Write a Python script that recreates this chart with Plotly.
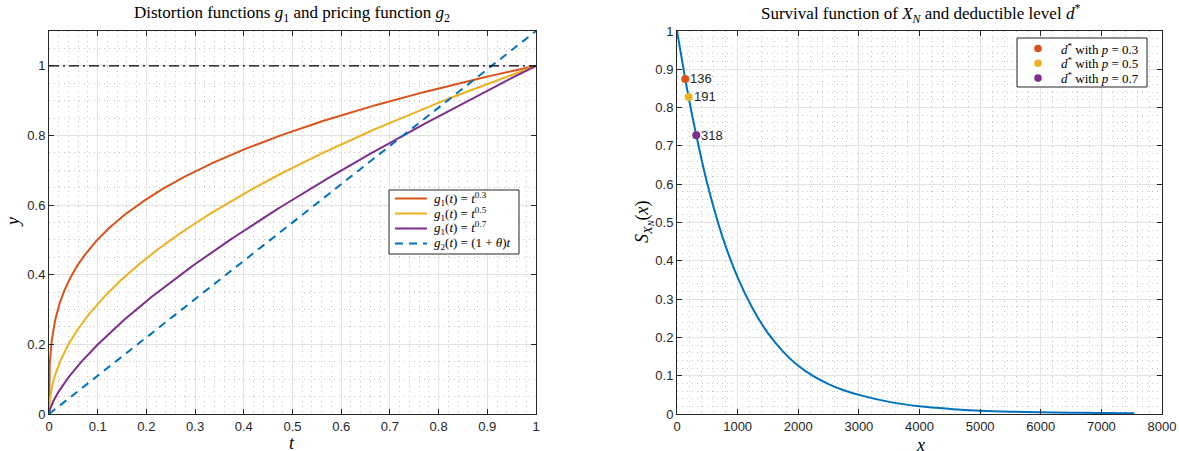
import numpy as np
import plotly.graph_objects as go

# ---------------- data ----------------
p_values = [0.3, 0.5, 0.7]
g1_colors = ["#D95319", "#EDB120", "#7E2F8E"]
pricing_color = "#0072BD"
theta = 0.1
t_grid = np.linspace(0, 1, 1001) ** 2  # dense near 0

pricing_t = [0.0, 1.0]
pricing_y = [0.0, 1.0 + theta]

survival_x = [0, 136, 191, 318, 500, 750, 1000, 1250, 1500, 1750, 2000, 2250, 2500,
              2750, 3000, 3500, 4000, 4500, 5000, 5500, 6000, 6500, 7000, 7545]
survival_s = [1.0, 0.875, 0.828, 0.728, 0.601, 0.4625, 0.357, 0.275, 0.211, 0.163,
              0.126, 0.099, 0.078, 0.062, 0.050, 0.0317, 0.020, 0.0132, 0.0087, 0.0061,
              0.0045, 0.0035, 0.0028, 0.0022]

d_star = [136, 191, 318]
d_surv = [0.875, 0.828, 0.728]
d_labels = ["136", "191", "318"]

left_legend = ["<i>g</i><sub>1</sub>(<i>t</i>) = <i>t</i><sup>0.3</sup>",
               "<i>g</i><sub>1</sub>(<i>t</i>) = <i>t</i><sup>0.5</sup>",
               "<i>g</i><sub>1</sub>(<i>t</i>) = <i>t</i><sup>0.7</sup>",
               "<i>g</i><sub>2</sub>(<i>t</i>) = (1 + <i>θ</i>)<i>t</i>"]
right_legend = ["<i>d</i><sup>*</sup> with <i>p</i> = 0.3",
                "<i>d</i><sup>*</sup> with <i>p</i> = 0.5",
                "<i>d</i><sup>*</sup> with <i>p</i> = 0.7"]

W, H = 1179, 451
fig = go.Figure()

# ---------------- left panel ----------------
for p, c, nm in zip(p_values, g1_colors, left_legend):
    fig.add_trace(go.Scatter(
        x=t_grid, y=t_grid ** p, mode="lines", line=dict(color=c, width=2),
        name=nm, showlegend=False, xaxis="x", yaxis="y"))
fig.add_trace(go.Scatter(
    x=pricing_t, y=pricing_y, mode="lines",
    line=dict(color=pricing_color, width=2, dash="8px,6px"),
    name=left_legend[3], showlegend=False, xaxis="x", yaxis="y"))
fig.add_trace(go.Scatter(
    x=[0, 1], y=[1, 1], mode="lines",
    line=dict(color="black", width=1.3, dash="10px,4px,2px,4px"),
    showlegend=False, xaxis="x", yaxis="y", hoverinfo="skip"))

# ---------------- right panel ----------------
fig.add_trace(go.Scatter(
    x=survival_x, y=survival_s, mode="lines",
    line=dict(color=pricing_color, width=2, shape="spline", smoothing=1.0),
    showlegend=False, xaxis="x2", yaxis="y2"))
for d, s, c, nm in zip(d_star, d_surv, g1_colors, right_legend):
    fig.add_trace(go.Scatter(
        x=[d], y=[s], mode="markers", marker=dict(color=c, size=8),
        name=nm, showlegend=False, xaxis="x2", yaxis="y2"))

# ---------------- helpers (pixel -> paper) ----------------
def px(x):
    return x / W

def py(y):
    return (H - y) / H

annotations = []
shapes = []
for d, s, lab in zip(d_star, d_surv, d_labels):
    annotations.append(dict(x=d, y=s, xref="x2", yref="y2", text=lab, showarrow=False,
                            xanchor="left", yanchor="middle", xshift=3,
                            font=dict(family="Liberation Sans, Arial", size=13, color="#262626")))

serif = "Liberation Serif, Times New Roman, serif"
px_annots = [
    (292, 14, "Distortion functions <i>g</i><sub>1</sub> and pricing function <i>g</i><sub>2</sub>", 17, 0),
    (920, 14, "Survival function of <i>X<sub>N</sub></i> and deductible level <i>d</i><sup>*</sup>", 17, 0),
    (292, 443, "<i>t</i>", 18, 0),
    (920, 445, "<i>x</i>", 18, 0),
    (13, 222, "<i>y</i>", 18, -90),
    (644, 222, "<i>S</i><sub><i>X<sub>N</sub></i></sub>(<i>x</i>)", 18, -90),
]
for x, y, txt, size, ang in px_annots:
    annotations.append(dict(x=px(x), y=py(y), xref="paper", yref="paper",
                            xanchor="center", yanchor="middle", showarrow=False,
                            text=txt, textangle=ang,
                            font=dict(family=serif, size=size, color="#000")))

# ---------------- legends (drawn in layout) ----------------
legend_font = dict(family=serif, size=13, color="#000")
# left legend box
shapes.append(dict(type="rect", xref="paper", yref="paper", x0=px(389), x1=px(519),
                   y0=py(254), y1=py(190), fillcolor="white",
                   line=dict(color="#262626", width=1)))
left_colors = g1_colors + [pricing_color]
left_dash = ["solid", "solid", "solid", "8px,6px"]
for i, (txt, c, ds) in enumerate(zip(left_legend, left_colors, left_dash)):
    yy = 198.5 + 15 * i
    shapes.append(dict(type="line", xref="paper", yref="paper", x0=px(395), x1=px(427),
                       y0=py(yy), y1=py(yy), line=dict(color=c, width=2, dash=ds)))
    annotations.append(dict(x=px(432), y=py(yy), xref="paper", yref="paper",
                            xanchor="left", yanchor="middle", showarrow=False,
                            text=txt, font=legend_font))
# right legend box
shapes.append(dict(type="rect", xref="paper", yref="paper", x0=px(1017), x1=px(1147),
                   y0=py(87), y1=py(38), fillcolor="white",
                   line=dict(color="#262626", width=1)))
for i, (txt, c) in enumerate(zip(right_legend, g1_colors)):
    yy = 48.5 + 14.8 * i
    shapes.append(dict(type="circle", xref="paper", yref="paper",
                       x0=px(1038 - 3.8), x1=px(1038 + 3.8),
                       y0=py(yy + 3.8), y1=py(yy - 3.8),
                       fillcolor=c, line=dict(color=c, width=0)))
    annotations.append(dict(x=px(1059), y=py(yy), xref="paper", yref="paper",
                            xanchor="left", yanchor="middle", showarrow=False,
                            text=txt, font=legend_font))

tickfont = dict(family="Liberation Sans, Arial", size=13, color="#262626")
axis_common = dict(showline=True, linecolor="#262626", linewidth=1, mirror="allticks",
                   ticks="inside", ticklen=5, tickcolor="#262626", tickfont=tickfont,
                   showgrid=True, gridcolor="#e3e3e3", gridwidth=1, zeroline=False)

def minor(dt):
    return dict(showgrid=True, gridcolor="#c4c4c4", griddash="1px,4px", gridwidth=1,
                dtick=dt, ticks="")

ybot = py(414)
ytop = py(31)

fig.update_layout(
    width=W, height=H, margin=dict(l=0, r=0, t=0, b=0, autoexpand=False),
    paper_bgcolor="white", plot_bgcolor="white",
    xaxis=dict(domain=[px(49), px(536)], range=[0, 1], tick0=0, dtick=0.1,
               minor=minor(0.02), anchor="y", **axis_common),
    yaxis=dict(domain=[ybot, ytop], range=[0, 1.1], tick0=0, dtick=0.2,
               minor=minor(0.05), anchor="x", **axis_common),
    xaxis2=dict(domain=[px(677), px(1162)], range=[0, 8000], tick0=0, dtick=1000,
                minor=minor(200), anchor="y2", **axis_common),
    yaxis2=dict(domain=[ybot, ytop], range=[0, 1], tick0=0, dtick=0.1,
                minor=minor(0.02), anchor="x2", **axis_common),
    annotations=annotations,
    shapes=shapes,
    showlegend=False,
)

fig.write_html("out.html", config={"displayModeBar": False},
               post_script="document.body.style.margin='0px';document.body.style.padding='0px';")
